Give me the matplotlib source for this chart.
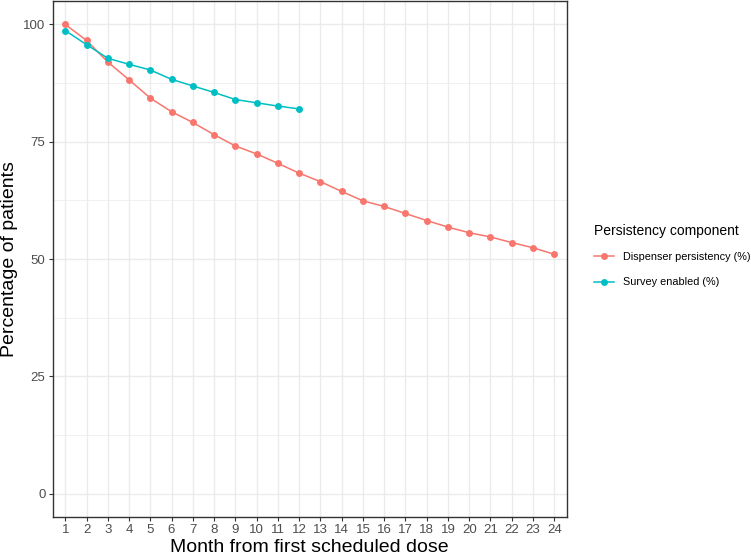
import numpy as np
import matplotlib
matplotlib.use("Agg")
import matplotlib.pyplot as plt
from matplotlib.ticker import MultipleLocator

plt.rcParams['font.family'] = ['Liberation Sans', 'DejaVu Sans']

# data
months = list(range(1, 25))
dispenser = [100.0, 96.6, 92.0, 88.2, 84.3, 81.4, 79.1, 76.5, 74.1, 72.4, 70.4, 68.3,
             66.5, 64.4, 62.4, 61.2, 59.7, 58.2, 56.8, 55.6, 54.7, 53.5, 52.4, 51.0]
survey_months = list(range(1, 13))
survey = [98.7, 95.7, 92.8, 91.5, 90.3, 88.3, 86.9, 85.5, 84.0, 83.3, 82.6, 82.0]

red = '#F8766D'
teal = '#00BFC4'

W, H = 751, 556
fig = plt.figure(figsize=(W / 100, H / 100), dpi=100)
ax = fig.add_axes([52.5 / W, (H - 517) / H, (567 - 52.5) / W, 516 / H])

ax.plot(months, dispenser, color=red, lw=1.1, marker='o', ms=5, mew=0,
        label='Dispenser persistency (%)', zorder=3)
ax.plot(survey_months, survey, color=teal, lw=1.1, marker='o', ms=5, mew=0,
        label='Survey enabled (%)', zorder=3)

ax.set_xlim(0.4, 24.6)
ax.set_ylim(-5, 105)
ax.set_xticks(months)
ax.set_yticks([0, 25, 50, 75, 100])
ax.yaxis.set_minor_locator(MultipleLocator(12.5))
ax.tick_params(axis='y', which='minor', length=0)

ax.grid(True, which='major', color='#EBEBEB', lw=1.0, zorder=0)
ax.grid(True, which='minor', axis='y', color='#EBEBEB', lw=0.5, zorder=0)
ax.set_axisbelow(True)

for s in ax.spines.values():
    s.set_color('#333333')
    s.set_linewidth(1.0)

ax.tick_params(axis='both', which='major', length=3, width=0.8, color='#333333',
               labelcolor='#4D4D4D', labelsize=9.5, pad=2)

ax.set_xlabel('Month from first scheduled dose', fontsize=14, labelpad=2)
ax.set_ylabel('Percentage of patients', fontsize=14, labelpad=4)

leg = ax.legend(loc='upper left', bbox_to_anchor=(590 / W, 1 - 220 / H),
                bbox_transform=fig.transFigure, frameon=False,
                title='Persistency component', title_fontsize=10, fontsize=7.8,
                handlelength=1.8, handletextpad=0.85, labelspacing=1.4,
                borderaxespad=0)
leg._legend_box.align = 'left'
leg._legend_box.sep = 10

fig.savefig('out.png', dpi=100)
